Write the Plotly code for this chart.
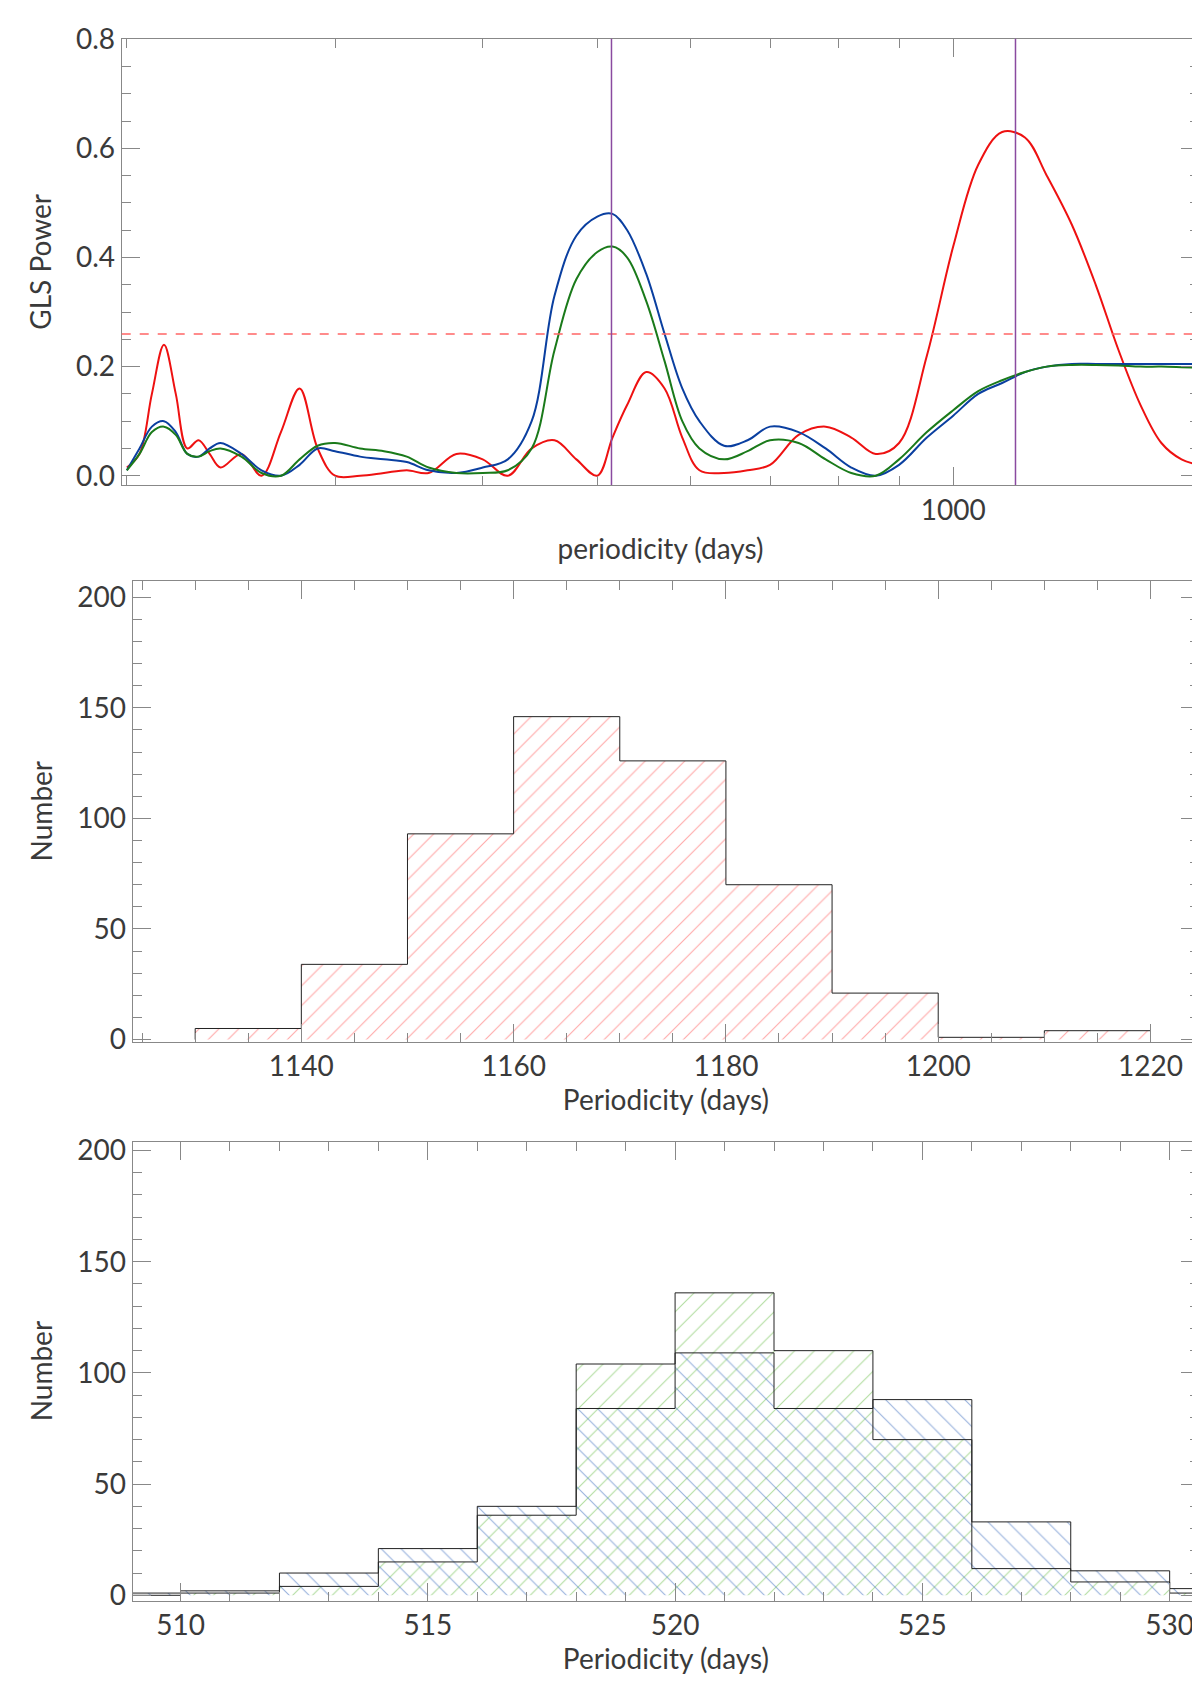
import plotly.graph_objects as go

# --- top panel: GLS periodograms (period in days, power)
period = [200, 205, 210, 215, 220, 225, 230, 235, 240, 250, 260, 270, 280, 290, 300,
          315, 330, 345, 360, 380, 400, 420, 440, 460, 480, 500, 515, 530, 550, 570,
          590, 610, 640, 670, 700, 740, 780, 820, 860, 900, 950, 1000, 1050, 1100,
          1150, 1200, 1260, 1320, 1380, 1440, 1500, 1560, 1615]
power_red = [0.015, 0.04, 0.15, 0.24, 0.15, 0.05, 0.065, 0.04, 0.015, 0.04, 0.0, 0.08, 0.16,
             0.05, 0.0, 0.0, 0.005, 0.01, 0.005, 0.04, 0.03, 0.0, 0.05, 0.065, 0.03, 0.0,
             0.07, 0.13, 0.19, 0.16, 0.07, 0.01, 0.005, 0.01, 0.02, 0.075, 0.09, 0.07, 0.04,
             0.06, 0.22, 0.42, 0.57, 0.63, 0.62, 0.55, 0.46, 0.35, 0.23, 0.13, 0.06, 0.03, 0.02]
power_blue = [0.01, 0.05, 0.09, 0.1, 0.08, 0.04, 0.035, 0.05, 0.06, 0.04, 0.01, 0.0, 0.02,
              0.05, 0.045, 0.035, 0.03, 0.025, 0.01, 0.005, 0.015, 0.03, 0.1, 0.33, 0.44,
              0.475, 0.48, 0.45, 0.37, 0.26, 0.16, 0.1, 0.055, 0.065, 0.09, 0.08, 0.05,
              0.015, 0.0, 0.02, 0.07, 0.11, 0.15, 0.17, 0.19, 0.2, 0.205, 0.205, 0.205,
              0.205, 0.205, 0.205, 0.205]
power_green = [0.01, 0.04, 0.08, 0.09, 0.075, 0.04, 0.035, 0.045, 0.05, 0.035, 0.005, 0.0,
               0.03, 0.055, 0.06, 0.05, 0.045, 0.035, 0.015, 0.005, 0.005, 0.01, 0.05, 0.23,
               0.36, 0.41, 0.42, 0.4, 0.32, 0.21, 0.1, 0.05, 0.03, 0.045, 0.065, 0.06, 0.03,
               0.005, 0.0, 0.03, 0.08, 0.12, 0.155, 0.175, 0.19, 0.2, 0.203, 0.203, 0.202,
               0.2, 0.2, 0.199, 0.198]
fap_level = 0.26
peak_periods = [514, 1129]

# --- middle panel histogram (bin centres, counts)
bins_mid = [1135, 1145, 1155, 1165, 1175, 1185, 1195, 1205, 1215]
counts_mid = [5, 34, 93, 146, 126, 70, 21, 1, 4]

# --- bottom panel histograms
bins_low = [509, 511, 513, 515, 517, 519, 521, 523, 525, 527, 529, 531]
counts_green = [0, 1, 4, 15, 36, 104, 136, 110, 70, 12, 6, 1]
counts_blue = [1, 2, 10, 21, 40, 84, 109, 84, 88, 33, 11, 3]

W, H = 1108.0, 1568.0
FONT = "Lato"
TXT = "#3a3a3a"
RIGHT = 1100 / W


def step_outline(centres, counts, width):
    # closed histogram outline for a line trace with hv steps
    xs = [centres[0] - width / 2] + [c - width / 2 for c in centres] + [centres[-1] + width / 2] * 2
    ys = [0] + list(counts) + [counts[-1], 0]
    return xs, ys


def hatched_bar(x, y, width, shape, colour, xa, ya):
    return go.Bar(x=x, y=y, width=width, xaxis=xa, yaxis=ya,
                  marker=dict(color="rgba(0,0,0,0)", line=dict(width=0),
                              pattern=dict(shape=shape, fgcolor=colour, bgcolor="rgba(0,0,0,0)",
                                           size=14, solidity=0.08)))


fig = go.Figure()
fig.add_trace(go.Scatter(x=period, y=power_red, mode="lines", line=dict(color="#ee1111", width=2, shape="spline"), xaxis="x", yaxis="y"))
fig.add_trace(go.Scatter(x=period, y=power_blue, mode="lines", line=dict(color="#0a3fa0", width=2, shape="spline"), xaxis="x", yaxis="y"))
fig.add_trace(go.Scatter(x=period, y=power_green, mode="lines", line=dict(color="#1a7a1a", width=2, shape="spline"), xaxis="x", yaxis="y"))

fig.add_trace(hatched_bar(bins_mid, counts_mid, 10, "/", "#ff5555", "x2", "y2"))
fig.add_trace(hatched_bar(bins_low, counts_green, 2, "/", "#66bb44", "x3", "y3"))
fig.add_trace(hatched_bar(bins_low, counts_blue, 2, "\\", "#3366bb", "x3", "y3"))

for c, n, w, xa, ya in [(bins_mid, counts_mid, 10, "x2", "y2"),
                        (bins_low, counts_green, 2, "x3", "y3"),
                        (bins_low, counts_blue, 2, "x3", "y3")]:
    sx, sy = step_outline(c, n, w)
    fig.add_trace(go.Scatter(x=sx, y=sy, mode="lines", line=dict(color="#222", width=1, shape="hv"),
                             xaxis=xa, yaxis=ya))

fig.add_shape(type="line", xref="x domain", yref="y", x0=0, x1=1, y0=fap_level, y1=fap_level,
              line=dict(color="#ff6666", width=1.5, dash="dash"))
for p in peak_periods:
    fig.add_shape(type="line", xref="x", yref="y domain", x0=p, x1=p, y0=0, y1=1,
                  line=dict(color="#8a4aa0", width=1.5))

ax = dict(showline=True, linecolor="#888", mirror="ticks", ticks="inside", ticklen=18, tickcolor="#888",
          showgrid=False, zeroline=False, tickfont=dict(family=FONT, size=28, color=TXT),
          title_font=dict(family=FONT, size=28, color=TXT))
mn = dict(ticks="inside", ticklen=9, tickcolor="#888")

fig.update_layout(
    width=1200, height=1698, showlegend=False, barmode="overlay",
    plot_bgcolor="white", paper_bgcolor="white",
    margin=dict(l=0, r=0, t=0, b=0),
    xaxis=dict(ax, type="log", domain=[105 / W, RIGHT], anchor="y",
               range=[2.2967, 3.2082], tickvals=[1000], ticktext=["1000"],
               minor=dict(mn, tickvals=[200, 300, 400, 500, 600, 700, 800, 900]),
               title=dict(text="periodicity (days)", standoff=14)),
    yaxis=dict(ax, domain=[1 - 432 / H, 1 - 12 / H], anchor="x", range=[-0.017, 0.801],
               tickvals=[0, 0.2, 0.4, 0.6, 0.8], tickformat=".1f", minor=dict(mn, dtick=0.05),
               title=dict(text="GLS Power", standoff=16)),
    xaxis2=dict(ax, domain=[115 / W, RIGHT], anchor="y2", range=[1124.1, 1224.6],
                dtick=20, minor=dict(mn, dtick=5),
                title=dict(text="Periodicity (days)", standoff=6)),
    yaxis2=dict(ax, domain=[1 - 956 / H, 1 - 522 / H], anchor="x2", range=[-1, 207.5],
                dtick=50, minor=dict(mn, dtick=10),
                title=dict(text="Number", standoff=16)),
    xaxis3=dict(ax, domain=[115 / W, RIGHT], anchor="y3", range=[509.03, 530.6],
                dtick=5, minor=dict(mn, dtick=1),
                title=dict(text="Periodicity (days)", standoff=6)),
    yaxis3=dict(ax, domain=[1 - 1482 / H, 1 - 1050 / H], anchor="x3", range=[-2.4, 204],
                dtick=50, minor=dict(mn, dtick=10),
                title=dict(text="Number", standoff=16)),
)

fig.write_html("out.html")
